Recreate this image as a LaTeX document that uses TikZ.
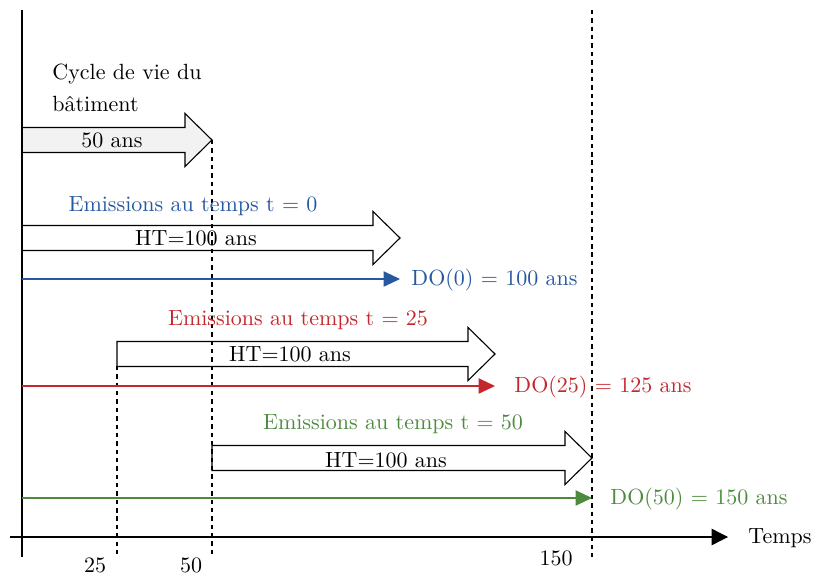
\documentclass[tikz,border=0pt]{standalone}
\usepackage{fontspec}
\usetikzlibrary{arrows.meta}
\definecolor{cblue}{RGB}{38,88,160}
\definecolor{cred}{RGB}{196,40,45}
\definecolor{cgreen}{RGB}{78,138,62}
\newcommand{\bigarrowpath}[4]{% style, x0, x1, yc
  \draw[#1] (#2,#4-12.5) -- (#3-27,#4-12.5) -- (#3-27,#4-26.5) -- (#3,#4)
    -- (#3-27,#4+26.5) -- (#3-27,#4+12.5) -- (#2,#4+12.5) -- cycle;}
\begin{document}
\begin{tikzpicture}[x=0.4545pt,y=-0.4545pt,
  bigarr/.style={draw=black,line width=0.5pt,line join=miter},
  axisline/.style={line width=0.6pt},
  vdash/.style={line width=0.5pt,dash pattern=on 2pt off 1.8pt},
  doline/.style={line width=0.5pt,-{Triangle[length=7.5pt,width=7pt]}},
  lbl/.style={inner sep=0pt,font=\fontsize{10}{12}\selectfont}]
\useasboundingbox (0,0) rectangle (815,576);
% building life cycle arrow (filled)
\bigarrowpath{bigarr,fill=black!5}{22}{212}{140}
% dashed verticals
\draw[vdash] (117,366) -- (117,557);
\draw[vdash] (212,140) -- (212,557);
\draw[vdash] (592,10) -- (592,557);
% axes
\coordinate (oy1) at (22,10);
\coordinate (oy2) at (22,557);
\coordinate (ox1) at (10,537);
\coordinate (ox2) at (728,537);
\draw[axisline] (oy1) -- (oy2);
\draw[axisline,-{Triangle[length=7.5pt,width=7.5pt]}] (ox1) -- (ox2);
\node[lbl,anchor=west] (temps) at (748,538) {Temps};
\node[lbl] (t25) at (95,565) {25};
\node[lbl] (t50) at (191,565) {50};
\node[lbl] (t150) at (556,558) {150};
% building life cycle
\node[lbl,anchor=west] (cyc1) at (52,74) {Cycle de vie du};
\node[lbl,anchor=west] (cyc2) at (52,104) {bâtiment};
\node[lbl] (a50) at (112,140) {50 ans};
% t = 0
\node[lbl,text=cblue] (e0) at (193,206) {Emissions au temps t = 0};
\bigarrowpath{bigarr}{22}{400}{238}
\node[lbl] (ht0) at (196,238) {HT=100 ans};
\coordinate (d0a) at (22,279);
\coordinate (d0b) at (400,279);
\draw[doline,cblue] (d0a) -- (d0b);
\node[lbl,anchor=west,text=cblue] (do0) at (411,280) {DO(0) = 100 ans};
% t = 25
\node[lbl,text=cred] (e25) at (298,320) {Emissions au temps t = 25};
\bigarrowpath{bigarr}{117}{495}{354}
\node[lbl] (ht25) at (290,354) {HT=100 ans};
\coordinate (d25a) at (22,386);
\coordinate (d25b) at (495,386);
\draw[doline,cred] (d25a) -- (d25b);
\node[lbl,anchor=west,text=cred] (do25) at (514,387) {DO(25) = 125 ans};
% t = 50
\node[lbl,text=cgreen] (e50) at (393,424) {Emissions au temps t = 50};
\bigarrowpath{bigarr}{212}{592}{458}
\node[lbl] (ht50) at (386,460) {HT=100 ans};
\coordinate (d50a) at (22,498);
\coordinate (d50b) at (592,498);
\draw[doline,cgreen] (d50a) -- (d50b);
\node[lbl,anchor=west,text=cgreen] (do50) at (610,499) {DO(50) = 150 ans};
\end{tikzpicture}
\end{document}
